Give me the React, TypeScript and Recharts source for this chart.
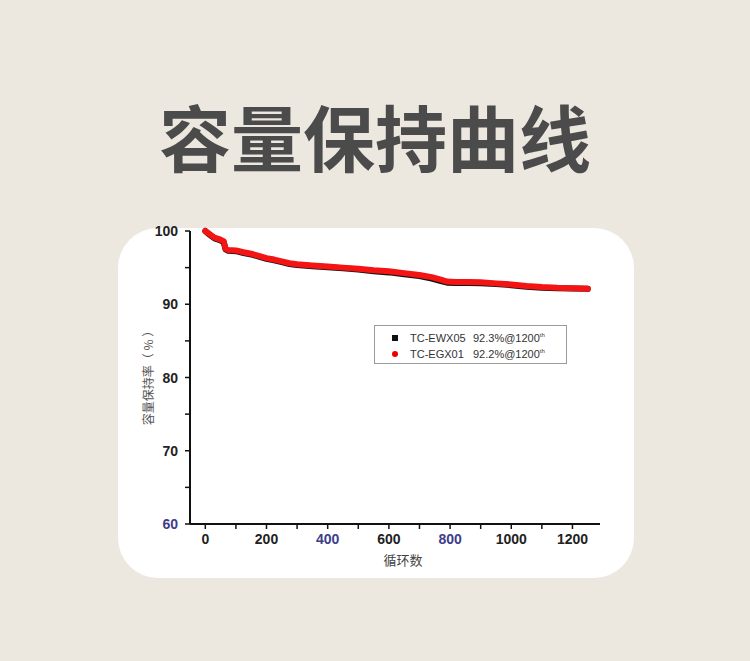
import { ComposedChart, Line, XAxis, YAxis } from 'recharts'

// 循环数
const cycles = [0, 10, 20, 30, 45, 60, 66, 75, 100, 125, 150, 175, 200, 225, 250, 275, 300, 350, 400, 450, 500, 550, 600, 650, 700, 740, 770, 790, 820, 860, 900, 950, 1000, 1050, 1100, 1150, 1200, 1250]
// TC-EGX01 (red)
const egx01 = [100, 99.7, 99.4, 99.1, 98.9, 98.6, 97.6, 97.4, 97.35, 97.1, 96.9, 96.6, 96.3, 96.1, 95.85, 95.6, 95.45, 95.3, 95.15, 95.0, 94.85, 94.65, 94.5, 94.25, 94.0, 93.7, 93.35, 93.1, 93.05, 93.05, 93.0, 92.85, 92.7, 92.5, 92.35, 92.25, 92.2, 92.1]
// TC-EWX05 (black)
const ewx05 = [100, 99.6, 99.3, 99.0, 98.8, 98.5, 97.5, 97.3, 97.25, 97.0, 96.8, 96.5, 96.2, 96.0, 95.75, 95.5, 95.35, 95.2, 95.05, 94.9, 94.75, 94.5, 94.35, 94.1, 93.85, 93.5, 93.15, 92.95, 92.9, 92.9, 92.85, 92.75, 92.6, 92.4, 92.25, 92.2, 92.15, 92.1]

const xTicks = [0, 100, 200, 300, 400, 500, 600, 700, 800, 900, 1000, 1100, 1200]
const xLabels = [0, 200, 400, 600, 800, 1000, 1200]
const yTicks = [60, 65, 70, 75, 80, 85, 90, 95, 100]
const yLabels = [60, 70, 80, 90, 100]

const legendItems = [
  { name: 'TC-EWX05', note: '92.3%@1200', color: '#111', shape: 'square' },
  { name: 'TC-EGX01', note: '92.2%@1200', color: '#e00', shape: 'circle' },
]

const data = cycles.map((c, i) => ({ cycle: c, ewx05: ewx05[i], egx01: egx01[i] }))

const tickFont = '"Liberation Sans", Arial, sans-serif'
const blueish = [60, 400, 800]

function XTick(props: any) {
  const { x, y, payload } = props
  if (!xLabels.includes(payload.value)) return null
  return (
    <text x={x} y={y} dy={10} textAnchor="middle" fontFamily={tickFont} fontWeight={700} fontSize={14}
      fill={blueish.includes(payload.value) ? '#3d3d8a' : '#222'}>
      {payload.value}
    </text>
  )
}

function YTick(props: any) {
  const { x, y, payload } = props
  if (!yLabels.includes(payload.value)) return null
  return (
    <text x={x} y={y} dy={5} textAnchor="end" fontFamily={tickFont} fontWeight={700} fontSize={14}
      fill={blueish.includes(payload.value) ? '#3d3d8a' : '#222'}>
      {payload.value}
    </text>
  )
}

function LegendBox() {
  return (
    <div style={{
      position: 'absolute', left: 374, top: 325,
      width: 193, height: 39, border: '1px solid #9a9a9a', background: '#fff',
      fontFamily: tickFont, fontSize: 11, color: '#333', boxSizing: 'border-box', paddingTop: 4,
    }}>
      {legendItems.map((it) => (
        <div key={it.name} style={{ display: 'flex', alignItems: 'center', height: 16 }}>
          <span style={{
            width: 6, height: 6, marginLeft: 17, marginRight: 12, background: it.color,
            borderRadius: it.shape === 'circle' ? '50%' : 0,
          }} />
          <span style={{ width: 63 }}>{it.name}</span>
          <span>{it.note}<sup style={{ fontSize: 6 }}>th</sup></span>
        </div>
      ))}
    </div>
  )
}

export default function App() {
  return (
    <div style={{ position: 'absolute', left: 0, top: 0, width: 750, height: 661, background: '#ece8df', overflow: 'hidden' }}>
      <div style={{
        position: 'absolute', left: 0, top: 90, width: 750, textAlign: 'center',
        fontFamily: '"Noto Sans CJK SC", sans-serif', fontWeight: 700, fontSize: 72, lineHeight: '90px', color: '#4b4b4b',
      }}>
        容量保持曲线
      </div>
      <div style={{ position: 'absolute', left: 118, top: 228, width: 516, height: 350, background: '#fff', borderRadius: 40 }} />
      <div style={{ position: 'absolute', left: 0, top: 0 }}>
        <ComposedChart width={750} height={661} data={data} margin={{ top: 231, right: 150, bottom: 107, left: 150 }}>
          <XAxis dataKey="cycle" type="number" domain={[-50, 1290]} ticks={xTicks} interval={0}
            tick={<XTick />} tickSize={5} tickMargin={5} height={30}
            axisLine={{ stroke: '#111', strokeWidth: 2 }} tickLine={{ stroke: '#111', strokeWidth: 1.5 }} />
          <YAxis yAxisId="l" type="number" domain={[60, 100]} ticks={yTicks} interval={0}
            tick={<YTick />} tickSize={5} tickMargin={7} width={40}
            axisLine={{ stroke: '#111', strokeWidth: 2 }} tickLine={{ stroke: '#111', strokeWidth: 1.5 }} />
          <YAxis yAxisId="r" orientation="right" type="number" domain={[60, 100]} tick={false} tickLine={false}
            width={0} axisLine={{ stroke: '#111', strokeWidth: 2 }} />
          <Line yAxisId="l" dataKey="ewx05" stroke="#111" strokeWidth={6} dot={false} strokeLinejoin="round" strokeLinecap="round" isAnimationActive={false} />
          <Line yAxisId="l" dataKey="egx01" stroke="#f41414" strokeWidth={6} dot={false} strokeLinejoin="round" strokeLinecap="round" isAnimationActive={false} />
          <text x={147} y={375} transform="rotate(-90 147 375)" textAnchor="middle" dominantBaseline="central"
            fontFamily='"Noto Sans CJK SC", sans-serif' fontSize={12} fill="#555">容量保持率（ % ）</text>
          <text x={403} y={559} textAnchor="middle" dominantBaseline="central"
            fontFamily='"Noto Sans CJK SC", sans-serif' fontSize={13} fill="#444">循环数</text>
        </ComposedChart>
      </div>
      <LegendBox />
    </div>
  )
}
